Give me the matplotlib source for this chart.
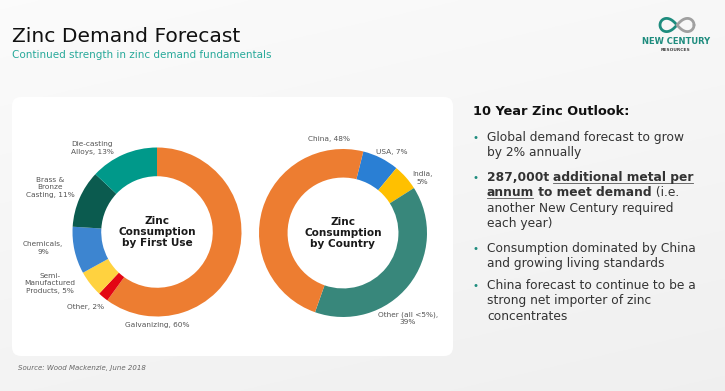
import matplotlib
matplotlib.use('Agg')
import matplotlib.pyplot as plt
import numpy as np
from matplotlib.patches import FancyBboxPatch

# ---------------- data ----------------
use_labels = ['Galvanizing, 60%', 'Other, 2%', 'Semi-\nManufactured\nProducts, 5%',
              'Chemicals,\n9%', 'Brass &\nBronze\nCasting, 11%', 'Die-casting\nAlloys, 13%']
use_values = [60, 2, 5, 9, 11, 13]
use_colors = ['#ED7D31', '#E30613', '#FFD23F', '#3D85D0', '#0B5B4F', '#00998A']

country_labels = ['USA, 7%', 'India,\n5%', 'Other (all <5%),\n39%', 'China, 48%']
country_values = [7, 5, 39, 48]
country_colors = ['#2A7FD4', '#FFC000', '#38877B', '#ED7D31']

title = 'Zinc Demand Forecast'
subtitle = 'Continued strength in zinc demand fundamentals'
outlook_title = '10 Year Zinc Outlook:'
source = 'Source: Wood Mackenzie, June 2018'

# ---------------- layout ----------------
W, H = 725, 391
plt.rcParams['font.family'] = ['DejaVu Sans']
fig = plt.figure(figsize=(W / 100, H / 100), dpi=100)

bg = fig.add_axes([0, 0, 1, 1])
bg.set_xlim(0, W); bg.set_ylim(H, 0); bg.axis('off')
grad = np.linspace(0, 1, 256)
gx, gy = np.meshgrid(grad, grad)
g = 0.985 - 0.045 * np.clip((gx * 0.3 + gy * 0.7), 0, 1)
bg.imshow(np.dstack([g, g, g]), extent=[0, W, H, 0], aspect='auto', zorder=0)
panel = FancyBboxPatch((12, 97), 441, 259, boxstyle='round,pad=0,rounding_size=9',
                       fc='white', ec='none', zorder=1)
bg.add_patch(panel)


def donut(cx, cy, R, values, colors, start, center_text):
    ax = fig.add_axes([(cx - R) / W, 1 - (cy + R) / H, 2 * R / W, 2 * R / H])
    ax.pie(values, colors=colors, startangle=start, counterclock=False, radius=1,
           wedgeprops=dict(width=0.34, edgecolor='none'))
    ax.set_xlim(-1, 1); ax.set_ylim(-1, 1); ax.set_aspect('equal'); ax.axis('off')
    ax.text(0, 0, center_text, ha='center', va='center', fontsize=7.6,
            fontweight='bold', color='#1a1a1a', linespacing=1.15)
    return ax


donut(157, 232, 84.5, use_values, use_colors, 90, 'Zinc\nConsumption\nby First Use')
donut(343, 233, 84, country_values, country_colors, 76, 'Zinc\nConsumption\nby Country')

ov = fig.add_axes([0, 0, 1, 1], facecolor='none')
ov.set_xlim(0, W); ov.set_ylim(H, 0); ov.axis('off')

lab_kw = dict(fontsize=5.3, color='#555555', ha='center', va='center', linespacing=1.3)
use_pos = [(157, 325), (86, 307), (50, 283), (43, 248), (50, 187), (92, 148)]
for t, (x, y) in zip(use_labels, use_pos):
    ov.text(x, y, t, **lab_kw)
country_pos = [(392, 152), (422, 178), (408, 318), (329, 139)]
for t, (x, y) in zip(country_labels, country_pos):
    ov.text(x, y, t, **lab_kw)

# titles
ov.text(12, 42, title, fontsize=14.6, color='#111111', va='baseline', ha='left')
ov.text(12, 58, subtitle, fontsize=7.5, color='#27A99A', va='baseline', ha='left')
ov.text(18, 370, source, fontsize=5.0, color='#666666', style='italic', va='baseline')

# logo
tt = np.linspace(0, 2 * np.pi, 400)
lx = 677 + 17 * np.cos(tt) / (1 + np.sin(tt) ** 2)
ly = 25 + 17 * np.sin(tt) * np.cos(tt) / (1 + np.sin(tt) ** 2) * 1.1
left = lx < 677
ov.plot(np.where(left, lx, np.nan), ly, color='#1E8C7E', lw=2.0, solid_capstyle='round')
ov.plot(np.where(~left, lx, np.nan), ly, color='#A0A0A0', lw=2.0, solid_capstyle='round')
ov.text(676, 44, 'NEW CENTURY', fontsize=6.0, fontweight='bold', color='#1E8C7E',
        ha='center', va='baseline')
ov.text(676, 51, 'RESOURCES', fontsize=3.2, fontweight='bold', color='#444444',
        ha='center', va='baseline')

# right text
ov.text(473, 115, outlook_title, fontsize=9.3, fontweight='bold', color='#111111',
        va='baseline')

renderer = fig.canvas.get_renderer()
TXT = '#333333'
FS = 8.8


def runs(x, y, parts):
    for s, weight, ul in parts:
        t = ov.text(x, y, s, fontsize=FS, fontweight=weight, color=TXT,
                    va='baseline', ha='left')
        w = t.get_window_extent(renderer=renderer).width
        if ul:
            ov.plot([x, x + w - 1], [y + 2, y + 2], color='#555555', lw=0.6)
        x += w


bullets = [
    (141, [[('Global demand forecast to grow', 'normal', False)],
           [('by 2% annually', 'normal', False)]]),
    (181, [[('287,000t ', 'bold', False), ('additional metal per', 'bold', True)],
           [('annum', 'bold', True), (' to meet demand', 'bold', False), (' (i.e.', 'normal', False)],
           [('another New Century required', 'normal', False)],
           [('each year)', 'normal', False)]]),
    (252, [[('Consumption dominated by China', 'normal', False)],
           [('and growing living standards', 'normal', False)]]),
    (289, [[('China forecast to continue to be a', 'normal', False)],
           [('strong net importer of zinc', 'normal', False)],
           [('concentrates', 'normal', False)]]),
]
LS = 15.3
for y0, lines in bullets:
    ov.text(476, y0 - 3, '•', fontsize=7.5, color='#1E8C7E', ha='center', va='center')
    for i, parts in enumerate(lines):
        runs(487, y0 + i * LS, parts)

fig.savefig('out.png', dpi=100)
